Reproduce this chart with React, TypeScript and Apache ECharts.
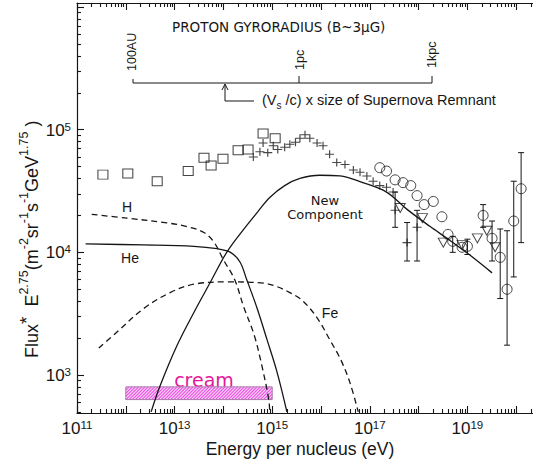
import React, { useEffect, useRef } from 'react';
import * as echarts from 'echarts';

const FONT = '"Liberation Sans", Arial, Helvetica, sans-serif';
const WIDE = '"DejaVu Sans", Verdana, sans-serif';
const INK = '#161616';

// ---------------- data (energy in eV, flux in m^-2 sr^-1 s^-1 GeV^1.75) ----------------
const squareEnergy = [3.4e11, 1.1e12, 4.4e12, 1.9e13, 4.0e13, 5.6e13, 9.8e13, 2.0e14, 3.2e14, 6.5e14, 1.15e15];
const squareFlux = [4.3e4, 4.4e4, 3.8e4, 4.6e4, 5.9e4, 5.1e4, 5.8e4, 6.8e4, 6.9e4, 9.3e4, 8.5e4];

const crossEnergy = [4.1e14, 5.6e14, 6.5e14, 8.1e14, 1.05e15, 1.3e15, 1.8e15, 2.3e15, 3.0e15, 3.7e15, 4.7e15, 5.9e15, 8.3e15, 1.1e16, 1.5e16, 2.1e16, 3.1e16, 4.6e16, 6.3e16, 8.7e16, 1.17e17, 1.6e17, 2.2e17, 3.0e17, 3.3e17, 5.8e17, 9.3e17];
const crossFlux = [6.0e4, 6.6e4, 7.8e4, 6.5e4, 7.4e4, 6.9e4, 7.2e4, 7.6e4, 7.9e4, 8.5e4, 9.1e4, 8.5e4, 7.8e4, 7.4e4, 6.3e4, 5.4e4, 5.2e4, 4.7e4, 4.5e4, 4.2e4, 3.8e4, 3.5e4, 3.4e4, 3.1e4, 2.2e4, 1.2e4, 1.6e4];
const crossErrLow: (number | null)[] = [null, null, null, null, null, null, null, null, null, null, null, null, null, null, null, null, null, null, null, null, null, null, null, null, 1.6e4, 8.5e3, 8.5e3];
const crossErrHigh: (number | null)[] = [null, null, null, null, null, null, null, null, null, null, null, null, null, null, null, null, null, null, null, null, null, null, null, null, 3.1e4, 1.75e4, 2.2e4];

const triangleEnergy = [4.2e17, 1.2e18, 3.2e18, 7.8e18, 1.6e19, 2.5e19, 3.7e19];
const triangleFlux = [2.3e4, 1.9e4, 1.2e4, 1.15e4, 1.3e4, 1.5e4, 1.1e4];

const circleEnergy = [1.6e17, 2.2e17, 3.3e17, 4.8e17, 6.9e17, 9.3e17, 1.3e18, 2.0e18, 3.0e18, 4.0e18, 5.0e18, 7.8e18, 1.0e19, 2.1e19, 3.2e19, 4.7e19, 6.5e19, 8.9e19, 1.26e20];
const circleFlux = [4.9e4, 4.6e4, 3.9e4, 3.7e4, 3.5e4, 2.9e4, 2.45e4, 2.6e4, 1.95e4, 1.4e4, 1.23e4, 1.1e4, 1.12e4, 2.0e4, 1.3e4, 9.1e3, 5.0e3, 1.8e4, 3.3e4];
const circleErrLow: (number | null)[] = [null, null, null, null, null, null, null, null, null, null, 1.0e4, null, 9.6e3, 1.6e4, 8.5e3, 4.2e3, 1.75e3, 6.3e3, 1.2e4];
const circleErrHigh: (number | null)[] = [null, null, null, null, null, null, null, null, null, null, 1.35e4, null, 1.28e4, 2.45e4, 1.8e4, 1.55e4, 1.5e4, 3.8e4, 6.5e4];

const hEnergy = [2.0e11, 1.05e12, 6.9e12, 1.8e13, 4.0e13, 6.5e13, 1.0e14, 1.7e14, 2.6e14, 4.3e14, 6.2e14, 8.5e14, 8.9e14];
const hFlux = [2.04e4, 1.9e4, 1.74e4, 1.62e4, 1.45e4, 1.2e4, 8.7e3, 6.0e3, 3.6e3, 2.1e3, 1.17e3, 630, 500];

const heEnergy = [1.5e11, 2.3e12, 2.5e13, 7.4e13, 1.4e14, 2.2e14, 3.0e14, 4.9e14, 7.8e14, 1.26e15, 2.0e15];
const heFlux = [1.17e4, 1.15e4, 1.12e4, 1.07e4, 1.0e4, 8.3e3, 6.0e3, 3.5e3, 1.95e3, 1.05e3, 500];

const feEnergy = [2.8e11, 6.6e11, 2.3e12, 8.1e12, 2.5e13, 1.2e14, 6.8e14, 1.26e15, 2.3e15, 3.7e15, 5.9e15, 9.5e15, 1.5e16, 2.5e16, 3.9e16, 5.8e16];
const feFlux = [1.66e3, 2.24e3, 3.47e3, 4.7e3, 5.5e3, 5.75e3, 5.6e3, 5.25e3, 4.7e3, 4.2e3, 3.5e3, 2.7e3, 1.95e3, 1.35e3, 870, 500];

const newEnergy = [3.3e12, 5.0e12, 1.12e13, 2.5e13, 5.4e13, 1.17e14, 2.6e14, 5.1e14, 8.9e14, 1.8e15, 3.7e15, 9.5e15, 2.45e16, 7.2e16, 2.2e17, 5.8e17, 1.7e18, 4.4e18, 1.12e19, 3.2e19];
const newFlux = [500, 810, 1.74e3, 3.25e3, 5.7e3, 1.0e4, 1.54e4, 2.15e4, 2.8e4, 3.5e4, 4.0e4, 4.25e4, 4.2e4, 3.7e4, 3.1e4, 2.24e4, 1.63e4, 1.25e4, 9.5e3, 6.8e3];

const creamEnergy = [1e12, 1e15];
const creamFlux = [630, 800];

const xLabelExponents = [11, 13, 15, 17, 19];
const yLabelExponents = [3, 4, 5];

// ---------------- helpers ----------------
const lg = (v: number) => Math.log10(v);
const pairs = (xs: number[], ys: number[]) => xs.map((x, i) => [lg(x), lg(ys[i])]);
const errRows = (xs: number[], lo: (number | null)[], hi: (number | null)[]) => {
  const out: number[][] = [];
  xs.forEach((x, i) => {
    const l = lo[i];
    const h = hi[i];
    if (l != null && h != null) out.push([lg(x), lg(l), lg(h)]);
  });
  return out;
};

const X_MIN = 11;
const X_MAX = 20.344;
const Y_MIN = 2.69;
const Y_MAX = 6.033;

const majorTicks = (lo: number, hi: number) => {
  const out: number[] = [];
  for (let n = Math.ceil(lo); n <= hi; n++) out.push(n);
  return out;
};
const minorTicks = (lo: number, hi: number) => {
  const out: number[] = [];
  for (let n = Math.floor(lo); n <= Math.ceil(hi); n++) {
    for (let k = 2; k <= 9; k++) {
      const v = n + Math.log10(k);
      if (v > lo && v < hi) out.push(v);
    }
  }
  return out;
};

const powRich = {
  b: { fontSize: 17, fontFamily: FONT, color: INK, lineHeight: 18, verticalAlign: 'bottom' },
  s: { fontSize: 11.5, fontFamily: FONT, color: INK, lineHeight: 10, verticalAlign: 'top' },
};
const powLabel = (v: number) => `{b|10}{s|${Math.round(v)}}`;

const lineStyle = { color: INK, width: 1.1 };

const makeX = (position: string, ticks: number[], len: number, showLine: boolean, labels: boolean) => ({
  type: 'value',
  min: X_MIN,
  max: X_MAX,
  position,
  splitLine: { show: false },
  axisLine: { show: showLine, onZero: false, lineStyle: { color: INK, width: 1.2 } },
  axisTick: { show: true, inside: true, length: len, customValues: ticks, lineStyle },
  axisLabel: labels
    ? { show: true, customValues: xLabelExponents, margin: 6, formatter: powLabel, rich: powRich }
    : { show: false },
});

const makeY = (ticks: number[], len: number, showLine: boolean, labels: boolean) => ({
  type: 'value',
  min: Y_MIN,
  max: Y_MAX,
  position: 'left',
  splitLine: { show: false },
  axisLine: { show: showLine, onZero: false, lineStyle: { color: INK, width: 1.2 } },
  axisTick: { show: true, inside: true, length: len, customValues: ticks, lineStyle },
  axisLabel: labels
    ? { show: true, customValues: yLabelExponents, margin: 6, formatter: powLabel, rich: powRich }
    : { show: false },
});

const errorSeries = (rows: number[][]) => ({
  type: 'custom',
  silent: true,
  z: 4,
  data: rows,
  encode: { x: 0, y: [1, 2] },
  renderItem: (_p: any, api: any) => {
    const x = api.value(0);
    const a = api.coord([x, api.value(1)]);
    const b = api.coord([x, api.value(2)]);
    const cap = 3;
    const st = { stroke: INK, lineWidth: 1 };
    return {
      type: 'group',
      children: [
        { type: 'line', shape: { x1: a[0], y1: a[1], x2: b[0], y2: b[1] }, style: st },
        { type: 'line', shape: { x1: a[0] - cap, y1: a[1], x2: a[0] + cap, y2: a[1] }, style: st },
        { type: 'line', shape: { x1: b[0] - cap, y1: b[1], x2: b[0] + cap, y2: b[1] }, style: st },
      ],
    };
  },
});

const curve = (xs: number[], ys: number[], dashed: boolean) => ({
  type: 'line',
  data: pairs(xs, ys),
  showSymbol: false,
  symbol: 'none',
  smooth: 0.35,
  silent: true,
  z: 3,
  lineStyle: { color: INK, width: 1.3, type: dashed ? [6, 4] : 'solid' },
});

const hollow = { color: 'rgba(255,255,255,0)', borderColor: INK, borderWidth: 1 };

const yTitle =
  '{t|Flux}{u|*}{t|  E}{s|2.75}{t|(m}{s|-2}{t|sr}{s|-1}{t|s}{s|-1}{t|GeV}{s|1.75}{t| )}';

const option: any = {
  animation: false,
  backgroundColor: '#ffffff',
  grid: { left: 77, right: 0, top: 3, bottom: 55, containLabel: false, outerBoundsMode: 'none' },
  xAxis: [
    makeX('bottom', majorTicks(X_MIN, X_MAX), 7, true, true),
    makeX('bottom', minorTicks(X_MIN, X_MAX), 4, false, false),
    makeX('top', majorTicks(X_MIN, X_MAX), 7, true, false),
    makeX('top', minorTicks(X_MIN, X_MAX), 4, false, false),
  ],
  yAxis: [
    makeY(majorTicks(Y_MIN, Y_MAX), 7, true, true),
    makeY(minorTicks(Y_MIN, Y_MAX), 4, false, false),
  ],
  series: [
    {
      type: 'custom',
      silent: true,
      z: 2,
      data: [[lg(creamEnergy[0]), lg(creamEnergy[1]), lg(creamFlux[0]), lg(creamFlux[1])]],
      encode: { x: [0, 1], y: [2, 3] },
      renderItem: (_p: any, api: any) => {
        const a = api.coord([api.value(0), api.value(3)]);
        const b = api.coord([api.value(1), api.value(2)]);
        const L = a[0];
        const T = a[1];
        const W = b[0] - a[0];
        const H = b[1] - a[1];
        const children: any[] = [
          { type: 'rect', shape: { x: L, y: T, width: W, height: H }, style: { fill: '#fcd2f8' } },
        ];
        const step = 3.2;
        for (let x0 = L - H; x0 < L + W; x0 += step) {
          const u0 = Math.max(0, L - x0);
          const u1 = Math.min(H, L + W - x0);
          if (u1 > u0) {
            children.push({
              type: 'line',
              shape: { x1: x0 + u0, y1: T + H - u0, x2: x0 + u1, y2: T + H - u1 },
              style: { stroke: '#e650e2', lineWidth: 1.1 },
            });
          }
        }
        children.push({
          type: 'rect',
          shape: { x: L, y: T, width: W, height: H },
          style: { fill: 'none', stroke: '#a87aa8', lineWidth: 1 },
        });
        return { type: 'group', children };
      },
    },
    curve(hEnergy, hFlux, true),
    curve(heEnergy, heFlux, false),
    curve(feEnergy, feFlux, true),
    curve(newEnergy, newFlux, false),
    errorSeries(errRows(crossEnergy, crossErrLow, crossErrHigh)),
    errorSeries(errRows(circleEnergy, circleErrLow, circleErrHigh)),
    {
      type: 'scatter',
      silent: true,
      z: 5,
      data: pairs(squareEnergy, squareFlux),
      symbol: 'rect',
      symbolSize: [10, 9],
      itemStyle: hollow,
    },
    {
      type: 'scatter',
      silent: true,
      z: 5,
      data: pairs(crossEnergy, crossFlux),
      symbol: 'path://M0,4L9,4M4.5,0L4.5,8',
      symbolSize: [9, 8],
      itemStyle: { color: 'rgba(255,255,255,0)', borderColor: INK, borderWidth: 1.1 },
    },
    {
      type: 'scatter',
      silent: true,
      z: 5,
      data: pairs(triangleEnergy, triangleFlux),
      symbol: 'triangle',
      symbolRotate: 180,
      symbolSize: [10, 9],
      itemStyle: hollow,
    },
    {
      type: 'scatter',
      silent: true,
      z: 5,
      data: pairs(circleEnergy, circleFlux),
      symbol: 'circle',
      symbolSize: 10,
      itemStyle: hollow,
    },
  ],
  graphic: {
    elements: [
      {
        type: 'text',
        x: 172,
        y: 27,
        style: { text: 'PROTON GYRORADIUS (B~3μG)', fontSize: 13.5, fontFamily: WIDE, fill: INK, align: 'left', verticalAlign: 'middle' },
      },
      { type: 'line', shape: { x1: 133, y1: 83, x2: 432, y2: 83 }, style: { stroke: INK, lineWidth: 1 } },
      { type: 'line', shape: { x1: 133, y1: 79, x2: 133, y2: 83 }, style: { stroke: INK, lineWidth: 1 } },
      { type: 'line', shape: { x1: 299, y1: 76, x2: 299, y2: 83 }, style: { stroke: INK, lineWidth: 1 } },
      { type: 'line', shape: { x1: 432, y1: 76, x2: 432, y2: 83 }, style: { stroke: INK, lineWidth: 1 } },
      {
        type: 'text', x: 132, y: 71, rotation: Math.PI / 2,
        style: { text: '100AU', fontSize: 12.5, fontFamily: FONT, fill: INK, align: 'left', verticalAlign: 'middle' },
      },
      {
        type: 'text', x: 300, y: 70, rotation: Math.PI / 2,
        style: { text: '1pc', fontSize: 12.5, fontFamily: FONT, fill: INK, align: 'left', verticalAlign: 'middle' },
      },
      {
        type: 'text', x: 432, y: 68, rotation: Math.PI / 2,
        style: { text: '1kpc', fontSize: 12.5, fontFamily: FONT, fill: INK, align: 'left', verticalAlign: 'middle' },
      },
      { type: 'line', shape: { x1: 225, y1: 85, x2: 225, y2: 101 }, style: { stroke: INK, lineWidth: 1 } },
      { type: 'polyline', shape: { points: [[222, 90], [225, 84], [228, 90]] }, style: { stroke: INK, fill: 'none', lineWidth: 1 } },
      { type: 'line', shape: { x1: 225, y1: 101, x2: 254, y2: 101 }, style: { stroke: INK, lineWidth: 1 } },
      {
        type: 'text', x: 262, y: 101,
        style: {
          text: '{a|(V}{b|s}{a| /c) x size of Supernova Remnant}',
          align: 'left', verticalAlign: 'middle',
          rich: {
            a: { fontSize: 14.5, fontFamily: FONT, fill: INK, lineHeight: 18, verticalAlign: 'top' },
            b: { fontSize: 10, fontFamily: FONT, fill: INK, lineHeight: 12, verticalAlign: 'bottom' },
          },
        },
      },
      { type: 'text', x: 127, y: 207, style: { text: 'H', fontSize: 14, fontFamily: FONT, fill: INK, align: 'center', verticalAlign: 'middle' } },
      { type: 'text', x: 130, y: 258, style: { text: 'He', fontSize: 14, fontFamily: FONT, fill: INK, align: 'center', verticalAlign: 'middle' } },
      { type: 'text', x: 330, y: 313, style: { text: 'Fe', fontSize: 14, fontFamily: FONT, fill: INK, align: 'center', verticalAlign: 'middle' } },
      {
        type: 'text', x: 325, y: 207,
        style: { text: 'New\nComponent', fontSize: 13, lineHeight: 14, fontFamily: WIDE, fill: INK, align: 'center', verticalAlign: 'middle' },
      },
      { type: 'text', x: 204, y: 380, style: { text: 'cream', fontSize: 19, fontFamily: WIDE, fill: '#e3189b', align: 'center', verticalAlign: 'middle' } },
      { type: 'text', x: 300, y: 449, style: { text: 'Energy per nucleus (eV)', fontSize: 17.5, fontFamily: FONT, fill: INK, align: 'center', verticalAlign: 'middle' } },
      {
        type: 'text', x: 29, y: 358, rotation: Math.PI / 2,
        style: {
          text: yTitle,
          align: 'left', verticalAlign: 'middle',
          rich: {
            t: { fontSize: 18, fontFamily: FONT, fill: INK, lineHeight: 24, verticalAlign: 'bottom' },
            s: { fontSize: 12.5, fontFamily: FONT, fill: INK, lineHeight: 12, verticalAlign: 'top' },
            u: { fontSize: 19, fontFamily: FONT, fill: INK, lineHeight: 16, verticalAlign: 'top' },
          },
        },
      },
    ],
  },
};

export default function App() {
  const ref = useRef<HTMLDivElement>(null);
  useEffect(() => {
    if (!ref.current) return;
    const chart = echarts.init(ref.current, null, { renderer: 'svg' });
    chart.setOption(option);
    return () => chart.dispose();
  }, []);
  return (
    <div
      ref={ref}
      style={{ position: 'fixed', left: 0, top: 0, width: 533, height: 468, background: '#fff' }}
    />
  );
}
